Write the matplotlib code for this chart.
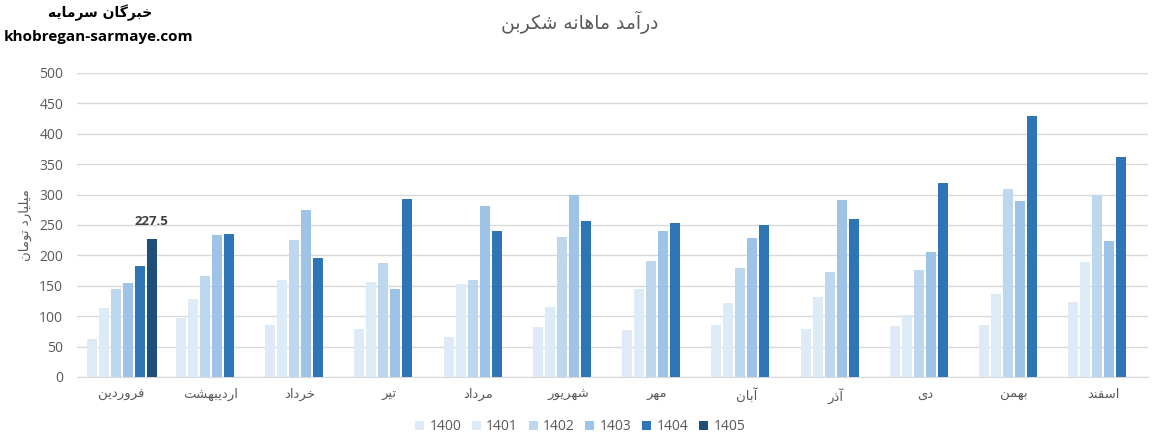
import numpy as np
import matplotlib
matplotlib.use('Agg')
import matplotlib.pyplot as plt

# داده ها (میلیارد تومان)
MAHHA = ['فروردین', 'اردیبهشت', 'خرداد', 'تیر', 'مرداد', 'شهریور',
         'مهر', 'آبان', 'آذر', 'دی', 'بهمن', 'اسفند']
SALHA = ['1400', '1401', '1402', '1403', '1404', '1405']
v1400 = [62, 97, 85, 79, 66, 82, 77, 85, 79, 84, 86, 123]
v1401 = [113, 128, 159, 156, 153, 115, 144, 121, 131, 102, 136, 189]
v1402 = [145, 166, 225, 187, 159, 230, 190, 180, 173, 176, 309, 300]
v1403 = [154, 233, 274, 144, 281, 300, 240, 228, 291, 205, 289, 224]
v1404 = [182, 235, 195, 292, 240, 256, 253, 250, 260, 319, 429, 362]
v1405 = [227.5]
RANGHA = ['#DEEAF6', '#DDEBF7', '#BDD7EE', '#9DC3E6', '#2E75B6', '#1F4E79']

# شکل دادن حروف فارسی (matplotlib خودش این کار را نمی کند)
# (تنها، پایانی، آغازی، میانی)
FORMS = {
    '\u0622': ('\uFE81', '\uFE82', None, None),
    '\u0627': ('\uFE8D', '\uFE8E', None, None),
    '\u0628': ('\uFE8F', '\uFE90', '\uFE91', '\uFE92'),
    '\u062A': ('\uFE95', '\uFE96', '\uFE97', '\uFE98'),
    '\u062E': ('\uFEA5', '\uFEA6', '\uFEA7', '\uFEA8'),
    '\u062F': ('\uFEA9', '\uFEAA', None, None),
    '\u0630': ('\uFEAB', '\uFEAC', None, None),
    '\u0631': ('\uFEAD', '\uFEAE', None, None),
    '\u0633': ('\uFEB1', '\uFEB2', '\uFEB3', '\uFEB4'),
    '\u0634': ('\uFEB5', '\uFEB6', '\uFEB7', '\uFEB8'),
    '\u0641': ('\uFED1', '\uFED2', '\uFED3', '\uFED4'),
    '\u0644': ('\uFEDD', '\uFEDE', '\uFEDF', '\uFEE0'),
    '\u0645': ('\uFEE1', '\uFEE2', '\uFEE3', '\uFEE4'),
    '\u0646': ('\uFEE5', '\uFEE6', '\uFEE7', '\uFEE8'),
    '\u0647': ('\uFEE9', '\uFEEA', '\uFEEB', '\uFEEC'),
    '\u0648': ('\uFEED', '\uFEEE', None, None),
    '\u06A9': ('\uFB8E', '\uFB8F', '\uFB90', '\uFB91'),
    '\u06AF': ('\uFB92', '\uFB93', '\uFB94', '\uFB95'),
    '\u06CC': ('\uFBFC', '\uFBFD', '\uFBFE', '\uFBFF'),
}


def fa(text):
    c = list(text)
    out = []
    for i, ch in enumerate(c):
        if ch not in FORMS:
            out.append(ch)
            continue
        iso, fin, ini, med = FORMS[ch]
        prev_j = i > 0 and c[i - 1] in FORMS and FORMS[c[i - 1]][2] is not None
        next_j = ini is not None and i < len(c) - 1 and c[i + 1] in FORMS
        if prev_j and next_j:
            out.append(med)
        elif prev_j:
            out.append(fin)
        elif next_j:
            out.append(ini)
        else:
            out.append(iso)
    return ''.join(reversed(out))


plt.rcParams['font.family'] = ['Open Sans', 'DejaVu Sans']
GRAY = '#595959'

fig = plt.figure(figsize=(11.6, 4.47), dpi=100)
ax = fig.add_axes([0.0664, 0.1566, 0.9233, 0.6801])

x = np.arange(len(MAHHA))
slot = 0.1345
width = 0.112
series = [v1400, v1401, v1402, v1403, v1404, v1405]
for i, vals in enumerate(series):
    xs = x[:len(vals)] + (i - 2.5) * slot
    ax.bar(xs, vals, width, color=RANGHA[i], label=SALHA[i], zorder=3)

# برچسب 1405
ax.annotate(f'{v1405[0]:g}', (x[0] + 2.5 * slot, v1405[0]),
            xytext=(0, 8), textcoords='offset points', ha='center', va='bottom',
            fontsize=9.5, fontweight='bold', color='#404040')

ax.set_xlim(-0.5, len(MAHHA) - 0.5)
ax.set_ylim(0, 500)
ax.set_yticks(range(0, 501, 50))
ax.yaxis.grid(True, color='#D9D9D9', linewidth=1.0, zorder=0)
ax.set_xticks(x)
ax.set_xticklabels([fa(m) for m in MAHHA], family='DejaVu Sans', fontsize=9.5, color=GRAY)
ax.tick_params(axis='y', labelsize=10, labelcolor=GRAY, length=0, pad=10)
ax.tick_params(axis='x', length=0, pad=8)
for s in ['top', 'right', 'left']:
    ax.spines[s].set_visible(False)
ax.spines['bottom'].set_color('#D9D9D9')

ax.set_ylabel(fa('میلیارد تومان'), family='DejaVu Sans', fontsize=9.5, color=GRAY, labelpad=5)

fig.text(0.5, 0.95, fa('درآمد ماهانه شکربن'), family='DejaVu Sans', fontsize=13.5,
         color=GRAY, ha='center', va='center')
fig.text(0.086, 0.972, fa('خبرگان سرمایه'), family='DejaVu Sans', fontsize=10,
         fontweight='bold', ha='center', va='center', color='black')
fig.text(0.085, 0.918, 'khobregan-sarmaye.com', fontsize=11,
         fontweight='bold', ha='center', va='center', color='black')

ax.legend(loc='center', bbox_to_anchor=(0.5, 0.045), bbox_transform=fig.transFigure,
          ncol=6, frameon=False, fontsize=10, labelcolor=GRAY,
          handlelength=0.65, handleheight=0.65, handletextpad=0.4, columnspacing=0.75)

fig.savefig('out.png', dpi=100)
